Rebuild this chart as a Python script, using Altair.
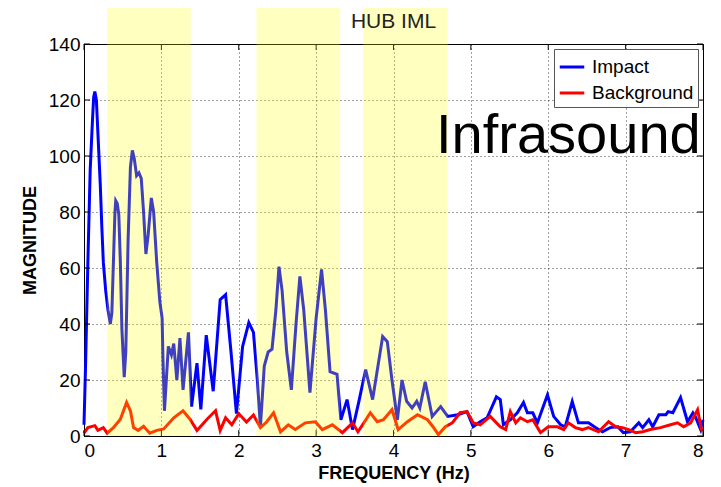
import altair as alt
import pandas as pd

# ---- data ----
blue_x = [0.00, 0.02, 0.05, 0.08, 0.11, 0.125, 0.14, 0.16, 0.18, 0.21, 0.23, 0.25, 0.28, 0.31, 0.34,
          0.36, 0.38, 0.40, 0.41, 0.43, 0.45, 0.47, 0.49, 0.52, 0.54, 0.57, 0.60, 0.625, 0.65, 0.68,
          0.71, 0.74, 0.77, 0.80, 0.83, 0.87, 0.90, 0.94, 0.98, 1.01, 1.02, 1.04, 1.09, 1.13, 1.16,
          1.20, 1.24, 1.28, 1.35, 1.39, 1.46, 1.51, 1.58, 1.67, 1.76, 1.83, 1.90, 1.97, 2.05, 2.13,
          2.19, 2.24, 2.28, 2.33, 2.38, 2.43, 2.48, 2.52, 2.56, 2.62, 2.68, 2.74, 2.79, 2.84, 2.92,
          3.00, 3.07, 3.12, 3.18, 3.27, 3.32, 3.40, 3.47, 3.55, 3.64, 3.73, 3.86, 3.92, 3.98, 4.05,
          4.11, 4.17, 4.24, 4.30, 4.34, 4.41, 4.50, 4.61, 4.70, 4.83, 4.95, 5.03, 5.12, 5.21, 5.33,
          5.38, 5.42, 5.51, 5.60, 5.68, 5.73, 5.80, 5.86, 5.99, 6.07, 6.16, 6.22, 6.31, 6.39, 6.52,
          6.61, 6.70, 6.80, 6.90, 6.97, 7.06, 7.17, 7.22, 7.30, 7.35, 7.43, 7.52, 7.55, 7.61, 7.71,
          7.80, 7.87, 7.90, 7.97, 8.00]
blue_y = [4, 25, 62, 95, 113, 121, 123, 120, 108, 90, 75, 62, 52, 45, 40,
          44, 62, 80, 84, 83, 79, 62, 38, 21, 30, 70, 96, 102, 99, 93,
          94, 92, 80, 65, 72, 85, 80, 62, 48, 42, 28, 9, 32, 29, 33,
          20, 35, 16.5, 37, 10.5, 26, 9.5, 36, 16, 48.7, 50.5, 30, 8, 32, 40.5,
          37, 20, 3.3, 25, 30, 31, 45, 60.5, 52, 30, 16.5, 40, 57, 45, 15.5,
          42, 59.5, 45, 23, 22, 5.8, 13, 2.3, 12, 23.7, 13, 35.5, 33.7, 20, 5.8,
          20, 12.4, 10, 12.4, 10, 19.4, 7, 10.5, 7, 7.6, 8.7, 3.3, 5.1, 6.5, 14,
          13, 4, 5.8, 8.3, 12, 8.3, 8.3, 4.7, 14.7, 7, 4, 3.3, 12.3, 4.7, 4.7,
          3, 1.5, 3, 3.3, 1.2, 1.5, 4.7, 3, 5.8, 3.3, 7.6, 7.6, 8.7, 8.3, 13.7,
          5.1, 8.3, 7, 2.3, 5.8]

red_x = [0.00, 0.05, 0.14, 0.18, 0.25, 0.30, 0.38, 0.47, 0.55, 0.60, 0.64, 0.70, 0.77, 0.85, 0.94,
         1.03, 1.16, 1.28, 1.37, 1.46, 1.59, 1.70, 1.76, 1.83, 1.91, 2.00, 2.10, 2.19, 2.28, 2.36,
         2.45, 2.54, 2.64, 2.73, 2.86, 2.99, 3.08, 3.21, 3.34, 3.47, 3.54, 3.60, 3.70, 3.79, 3.87,
         3.98, 4.06, 4.18, 4.31, 4.44, 4.51, 4.58, 4.67, 4.76, 4.86, 4.95, 5.03, 5.12, 5.25, 5.38,
         5.45, 5.51, 5.58, 5.64, 5.73, 5.80, 5.90, 6.00, 6.12, 6.20, 6.26, 6.35, 6.44, 6.52, 6.65,
         6.78, 6.87, 6.96, 7.04, 7.13, 7.22, 7.32, 7.45, 7.58, 7.67, 7.75, 7.84, 7.93, 7.98, 8.00]
red_y = [1, 3, 3.7, 2, 3, 1, 3, 6, 12, 9, 3, 2, 3.5, 1, 2,
         2.5, 6.5, 9, 6, 2, 6, 9, 2, 6.5, 4, 8, 5, 7.5, 3, 5,
         8.3, 1.5, 4, 2.3, 4.7, 5.1, 2.3, 4, 1.2, 4.7, 1.5, 4, 8.3, 5.1, 5.8,
         9.4, 2.3, 5.1, 7.6, 5.8, 3.3, 0.5, 3.3, 4.7, 8.3, 8.7, 4.7, 4, 7, 3.3,
         2.3, 8.7, 4.7, 6.5, 5.1, 5.8, 1.2, 3.3, 3.3, 2.3, 4.7, 3, 2.3, 3, 1.5,
         5.1, 3.3, 3, 2.3, 1.2, 1.5, 2.3, 3, 4, 4.7, 3.3, 4.7, 9.4, 2.3, 2]

band_start = [0.30, 2.23, 3.61]
band_end = [1.38, 3.31, 4.70]

x_ticks = [0, 1, 2, 3, 4, 5, 6, 7, 8]
y_ticks = [0, 20, 40, 60, 80, 100, 120, 140]

series_names = ["Impact", "Background"]
series_colors = ["#0000FF", "#FF0000"]

title_text = "HUB IML"
annot_text = "Infrasound"
annot_x = 7.97
annot_y = 101

W, H = 619, 392
FONT = "Liberation Sans"

blue_df = pd.DataFrame({"f": blue_x, "m": blue_y, "series": "Impact"})
red_df = pd.DataFrame({"f": red_x, "m": red_y, "series": "Background"})
bands_df = pd.DataFrame({"start": band_start, "end": band_end})
xt_df = pd.DataFrame({"f": x_ticks})
yt_df = pd.DataFrame({"m": y_ticks})
annot_df = pd.DataFrame({"f": [annot_x], "m": [annot_y], "t": [annot_text]})
title_df = pd.DataFrame({"t": [title_text]})

xscale = alt.Scale(domain=[0, 8], nice=False, zero=False)
yscale = alt.Scale(domain=[0, 140], nice=False)
cscale = alt.Scale(domain=series_names, range=series_colors)

xaxis = alt.Axis(values=x_ticks, title="FREQUENCY (Hz)", ticks=False, labelPadding=5,
                 labelFontSize=19, titleFontSize=18, titleFontWeight="bold", titlePadding=4,
                 grid=True, gridDash=[1, 3], gridColor="#000000", gridOpacity=0.75,
                 domainColor="#000000", labelColor="#000000", titleColor="#000000",
                 labelFont=FONT, titleFont=FONT, format="d")
yaxis = alt.Axis(values=y_ticks, title="MAGNITUDE", ticks=False, labelPadding=4,
                 labelFontSize=19, titleFontSize=18, titleFontWeight="bold", titlePadding=9,
                 grid=True, gridDash=[1, 3], gridColor="#000000", gridOpacity=0.75,
                 domainColor="#000000", labelColor="#000000", titleColor="#000000",
                 labelFont=FONT, titleFont=FONT, format="d")

legend = alt.Legend(title=None, orient="none", legendX=470, legendY=5, fillColor="white",
                    strokeColor="#555555", padding=4, symbolType="stroke", symbolSize=600,
                    symbolStrokeWidth=3, labelFontSize=19, labelFont=FONT, labelColor="#000000",
                    rowPadding=2, labelOffset=6)

blue_line = alt.Chart(blue_df).mark_line(strokeWidth=3).encode(
    x=alt.X("f:Q", scale=xscale, axis=xaxis),
    y=alt.Y("m:Q", scale=yscale, axis=yaxis),
    color=alt.Color("series:N", scale=cscale, legend=legend),
)
red_line = alt.Chart(red_df).mark_line(strokeWidth=3).encode(
    x=alt.X("f:Q", scale=xscale),
    y=alt.Y("m:Q", scale=yscale),
    color=alt.Color("series:N", scale=cscale, legend=legend),
)

tick_bottom = alt.Chart(xt_df).mark_rule(color="black").encode(
    x=alt.X("f:Q", scale=xscale), y=alt.value(H), y2=alt.value(H - 6))
tick_top = alt.Chart(xt_df).mark_rule(color="black").encode(
    x=alt.X("f:Q", scale=xscale), y=alt.value(0), y2=alt.value(6))
tick_left = alt.Chart(yt_df).mark_rule(color="black").encode(
    y=alt.Y("m:Q", scale=yscale), x=alt.value(0), x2=alt.value(6))
tick_right = alt.Chart(yt_df).mark_rule(color="black").encode(
    y=alt.Y("m:Q", scale=yscale), x=alt.value(W), x2=alt.value(W - 6))

annot = alt.Chart(annot_df).mark_text(align="right", baseline="alphabetic", fontSize=56,
                                      font=FONT, color="#000000").encode(
    x=alt.X("f:Q", scale=xscale), y=alt.Y("m:Q", scale=yscale), text="t:N")

bands = alt.Chart(bands_df).mark_rect(color="#FFFF00", opacity=0.25).encode(
    x=alt.X("start:Q", scale=xscale), x2="end:Q", y=alt.value(-60), y2=alt.value(H))

title_mark = alt.Chart(title_df).mark_text(align="center", baseline="alphabetic", fontSize=21,
                                           font=FONT, color="#222222").encode(
    x=alt.value(W / 2), y=alt.value(-16), text="t:N")

chart = alt.layer(
    blue_line, red_line, tick_bottom, tick_top, tick_left, tick_right, bands, annot, title_mark
).properties(
    width=W, height=H, autosize="none",
    padding={"left": 76, "top": 36, "right": 8, "bottom": 50},
    background="white",
).configure_view(stroke="#000000", strokeWidth=1)

chart.save("out.html", embed_options={"renderer": "svg", "actions": False})
